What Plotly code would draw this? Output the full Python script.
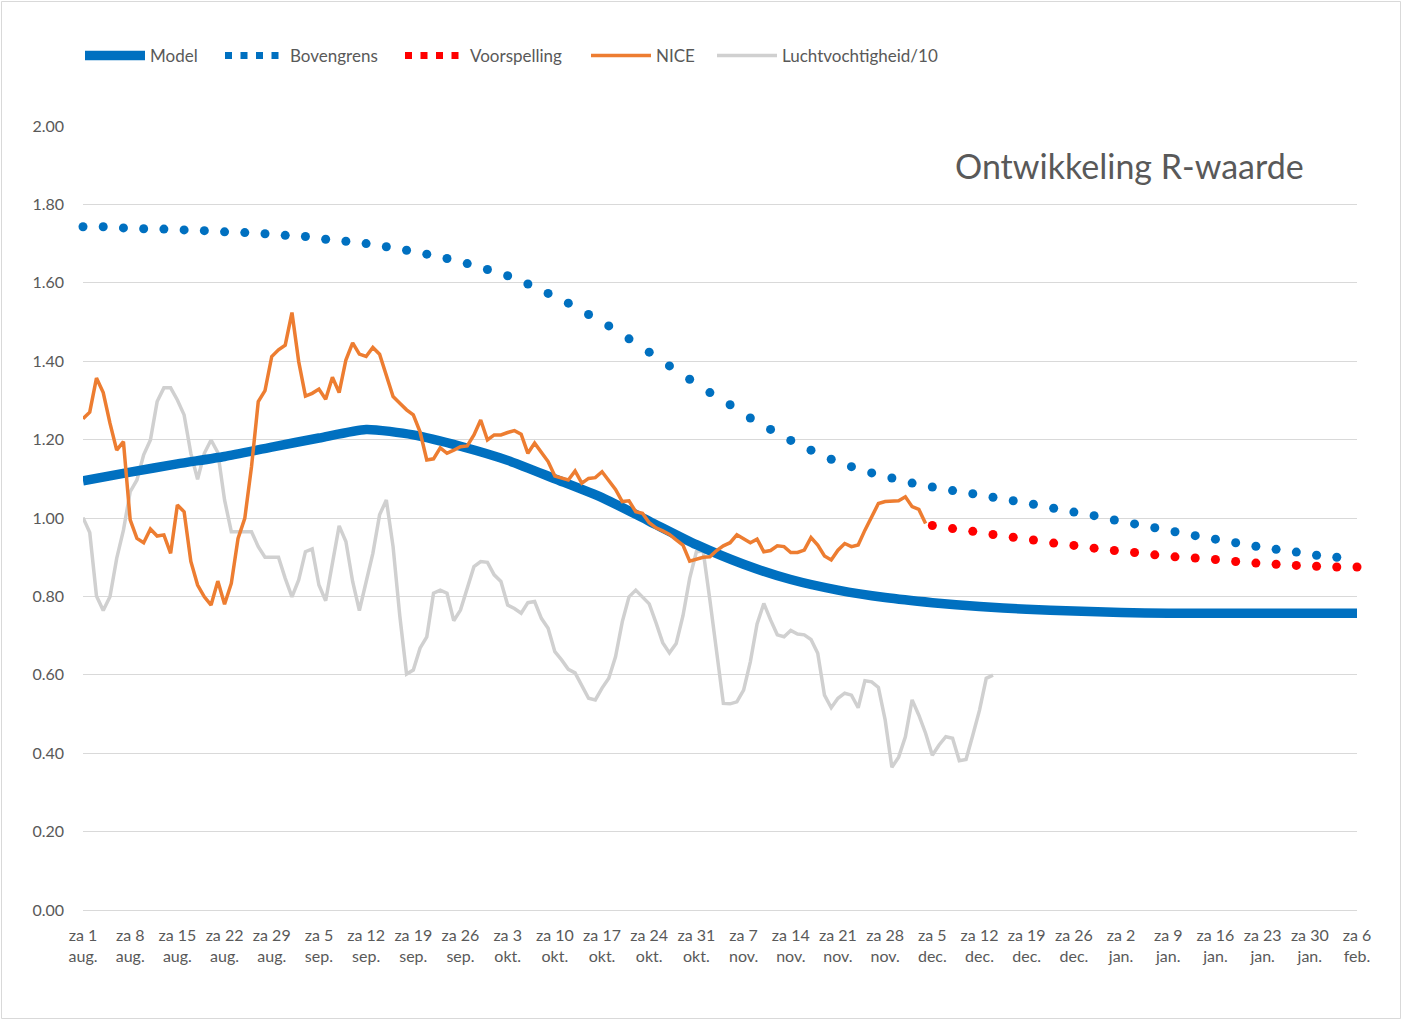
import pandas as pd
import plotly.graph_objects as go

# ---------------- data ----------------
start_date = "2020-08-01"

# Model (weekly values, starting za 1 aug.)
model = [1.095, 1.117, 1.138, 1.157, 1.181, 1.204, 1.226, 1.212, 1.183, 1.147,
         1.100, 1.052, 0.992, 0.932, 0.882, 0.843, 0.816, 0.797, 0.784, 0.774,
         0.767, 0.763, 0.759, 0.757, 0.757, 0.757, 0.757, 0.757]

# Bovengrens (every 3 days, starting za 1 aug.)
bovengrens = [1.743, 1.743, 1.740, 1.738, 1.737, 1.735, 1.733, 1.730, 1.728, 1.725,
              1.721, 1.718, 1.711, 1.706, 1.700, 1.692, 1.683, 1.673, 1.662, 1.649,
              1.634, 1.618, 1.597, 1.573, 1.548, 1.519, 1.490, 1.457, 1.423, 1.388,
              1.354, 1.320, 1.289, 1.255, 1.226, 1.198, 1.173, 1.150, 1.131, 1.115,
              1.102, 1.089, 1.079, 1.070, 1.062, 1.053, 1.044, 1.035, 1.025, 1.015,
              1.006, 0.995, 0.985, 0.975, 0.965, 0.955, 0.946, 0.937, 0.928, 0.920,
              0.913, 0.905, 0.900]

# Voorspelling (every 3 days, starting za 5 dec.)
voorspelling_start = "2020-12-05"
voorspelling = [0.981, 0.973, 0.966, 0.958, 0.951, 0.944, 0.936, 0.930, 0.923, 0.917,
                0.912, 0.906, 0.901, 0.898, 0.894, 0.889, 0.885, 0.882, 0.879, 0.877,
                0.875, 0.875]

# NICE (daily, starting za 1 aug.)
nice = [1.253, 1.270, 1.357, 1.320, 1.242, 1.173, 1.195, 0.995, 0.948, 0.937,
        0.972, 0.954, 0.957, 0.910, 1.033, 1.016, 0.889, 0.829, 0.799, 0.778,
        0.839, 0.780, 0.833, 0.948, 0.999, 1.131, 1.297, 1.325, 1.412, 1.429,
        1.441, 1.524, 1.399, 1.311, 1.318, 1.329, 1.303, 1.359, 1.320, 1.403,
        1.447, 1.418, 1.412, 1.435, 1.418, 1.365, 1.310, 1.293, 1.276, 1.263,
        1.220, 1.148, 1.151, 1.179, 1.165, 1.173, 1.182, 1.184, 1.212, 1.250,
        1.199, 1.212, 1.212, 1.218, 1.223, 1.214, 1.165, 1.191, 1.168, 1.144,
        1.107, 1.101, 1.097, 1.120, 1.089, 1.101, 1.103, 1.118, 1.097, 1.073,
        1.042, 1.044, 1.016, 1.012, 0.988, 0.975, 0.967, 0.958, 0.944, 0.931,
        0.890, 0.895, 0.900, 0.901, 0.917, 0.929, 0.937, 0.957, 0.946, 0.937,
        0.946, 0.914, 0.917, 0.929, 0.927, 0.912, 0.912, 0.918, 0.950, 0.931,
        0.903, 0.893, 0.918, 0.935, 0.927, 0.931, 0.969, 1.003, 1.037, 1.042,
        1.043, 1.044, 1.054, 1.029, 1.022, 0.986]

# Luchtvochtigheid/10 (daily, starting za 1 aug.)
lucht = [1.001, 0.963, 0.801, 0.764, 0.799, 0.897, 0.969, 1.067, 1.097, 1.161,
         1.199, 1.297, 1.332, 1.332, 1.301, 1.263, 1.165, 1.099, 1.165, 1.199,
         1.167, 1.046, 0.965, 0.965, 0.965, 0.965, 0.927, 0.900, 0.900, 0.900,
         0.846, 0.799, 0.842, 0.914, 0.921, 0.829, 0.789, 0.884, 0.980, 0.940,
         0.838, 0.764, 0.838, 0.910, 1.008, 1.046, 0.927, 0.750, 0.602, 0.612,
         0.668, 0.697, 0.808, 0.816, 0.808, 0.738, 0.765, 0.818, 0.876, 0.889,
         0.887, 0.855, 0.838, 0.778, 0.769, 0.757, 0.784, 0.787, 0.744, 0.719,
         0.659, 0.638, 0.614, 0.605, 0.570, 0.540, 0.536, 0.566, 0.591, 0.646,
         0.735, 0.799, 0.816, 0.797, 0.781, 0.733, 0.682, 0.656, 0.680, 0.750,
         0.846, 0.914, 0.916, 0.791, 0.655, 0.527, 0.526, 0.531, 0.561, 0.633,
         0.730, 0.782, 0.740, 0.702, 0.697, 0.713, 0.704, 0.702, 0.690, 0.655,
         0.548, 0.516, 0.540, 0.553, 0.548, 0.516, 0.585, 0.582, 0.568, 0.485,
         0.364, 0.390, 0.442, 0.536, 0.497, 0.451, 0.395, 0.421, 0.442, 0.438,
         0.381, 0.384, 0.446, 0.510, 0.591, 0.599]

tick_day = ["za 1", "za 8", "za 15", "za 22", "za 29", "za 5", "za 12", "za 19",
            "za 26", "za 3", "za 10", "za 17", "za 24", "za 31", "za 7", "za 14",
            "za 21", "za 28", "za 5", "za 12", "za 19", "za 26", "za 2", "za 9",
            "za 16", "za 23", "za 30", "za 6"]
tick_month = ["aug."] * 5 + ["sep."] * 4 + ["okt."] * 5 + ["nov."] * 4 + \
             ["dec."] * 4 + ["jan."] * 5 + ["feb."]

# ---------------- figure ----------------
model_x = pd.date_range(start_date, periods=len(model), freq="7D")
bov_x = pd.date_range(start_date, periods=len(bovengrens), freq="3D")
voor_x = pd.date_range(voorspelling_start, periods=len(voorspelling), freq="3D")
nice_x = pd.date_range(start_date, periods=len(nice), freq="D")
lucht_x = pd.date_range(start_date, periods=len(lucht), freq="D")
tick_x = pd.date_range(start_date, periods=len(tick_day), freq="7D")
tick_text = [f"{d}<br>{m}" for d, m in zip(tick_day, tick_month)]

BLUE = "#0070C0"
ORANGE = "#ED7D31"
RED = "#FF0000"
GRAY = "#D0D0D0"
TXT = "#595959"
FONT = "Lato, 'Open Sans', sans-serif"

PLOT_L, PLOT_W, PLOT_B, PLOT_H = 83, 1274, 910, 784


def px_x(px):
    return (px - PLOT_L) / PLOT_W


def px_y(py):
    return (PLOT_B - py) / PLOT_H


fig = go.Figure()
fig.add_trace(go.Scatter(x=lucht_x, y=lucht, mode="lines", name="Luchtvochtigheid/10",
                         line=dict(color=GRAY, width=3.5), legend="legend5"))
fig.add_trace(go.Scatter(x=model_x, y=model, mode="lines", name="Model",
                         line=dict(color=BLUE, width=9.5, shape="spline", smoothing=0.6),
                         legend="legend"))
fig.add_trace(go.Scatter(x=bov_x, y=bovengrens, mode="markers", name="Bovengrens",
                         marker=dict(color=BLUE, size=9), cliponaxis=False,
                         showlegend=False, legendgroup="bov"))
fig.add_trace(go.Scatter(x=voor_x, y=voorspelling, mode="markers", name="Voorspelling",
                         marker=dict(color=RED, size=9), cliponaxis=False,
                         showlegend=False, legendgroup="voor"))
fig.add_trace(go.Scatter(x=nice_x, y=nice, mode="lines", name="NICE",
                         line=dict(color=ORANGE, width=3.5), legend="legend4"))
# legend entries showing the dotted style
fig.add_trace(go.Scatter(x=[None], y=[None], mode="lines", name="Bovengrens",
                         line=dict(color=BLUE, width=7, dash="7px,8.5px"),
                         legendgroup="bov", legend="legend2"))
fig.add_trace(go.Scatter(x=[None], y=[None], mode="lines", name="Voorspelling",
                         line=dict(color=RED, width=7, dash="7px,8.5px"),
                         legendgroup="voor", legend="legend3"))

leg_common = dict(orientation="h", xanchor="left", y=px_y(56), yanchor="middle",
                  font=dict(size=17, color=TXT), itemwidth=60,
                  bgcolor="rgba(0,0,0,0)")

fig.update_layout(
    width=1402, height=1020,
    paper_bgcolor="white", plot_bgcolor="white",
    margin=dict(l=83, r=45, t=126, b=110),
    font=dict(family=FONT, size=16, color=TXT),
    showlegend=True,
    legend=dict(x=px_x(80), **leg_common),
    legend2=dict(x=px_x(220), **leg_common),
    legend3=dict(x=px_x(400), **leg_common),
    legend4=dict(x=px_x(586), **leg_common),
    legend5=dict(x=px_x(712), **leg_common),
    annotations=[dict(text="Ontwikkeling R-waarde", xref="paper", yref="paper",
                      x=px_x(1306), y=px_y(165),
                      xanchor="right", yanchor="middle",
                      showarrow=False, font=dict(size=34, color=TXT, family=FONT))],
    shapes=[dict(type="rect", xref="paper", yref="paper",
                 x0=px_x(1.5), x1=px_x(1400.5), y0=px_y(1018.5), y1=px_y(1.5),
                 line=dict(color="#D9D9D9", width=1), layer="below")],
)
fig.update_xaxes(range=[pd.Timestamp(start_date), tick_x[-1]], tickmode="array",
                 tickvals=tick_x, ticktext=tick_text, showgrid=False, zeroline=False,
                 showline=False, ticks="", tickfont=dict(size=16, color=TXT),
                 ticklabelstandoff=14)
fig.update_yaxes(range=[0, 2], dtick=0.2, tickformat=".2f", showgrid=True,
                 gridcolor="#D9D9D9", gridwidth=1.3, zeroline=True, zerolinecolor="#D9D9D9",
                 zerolinewidth=1.3, showline=False, ticks="",
                 tickfont=dict(size=16, color=TXT), ticklabelstandoff=18)

fig.write_html("out.html", config={"displayModeBar": False},
               post_script="document.body.style.margin='0';document.body.style.overflow='hidden';")
